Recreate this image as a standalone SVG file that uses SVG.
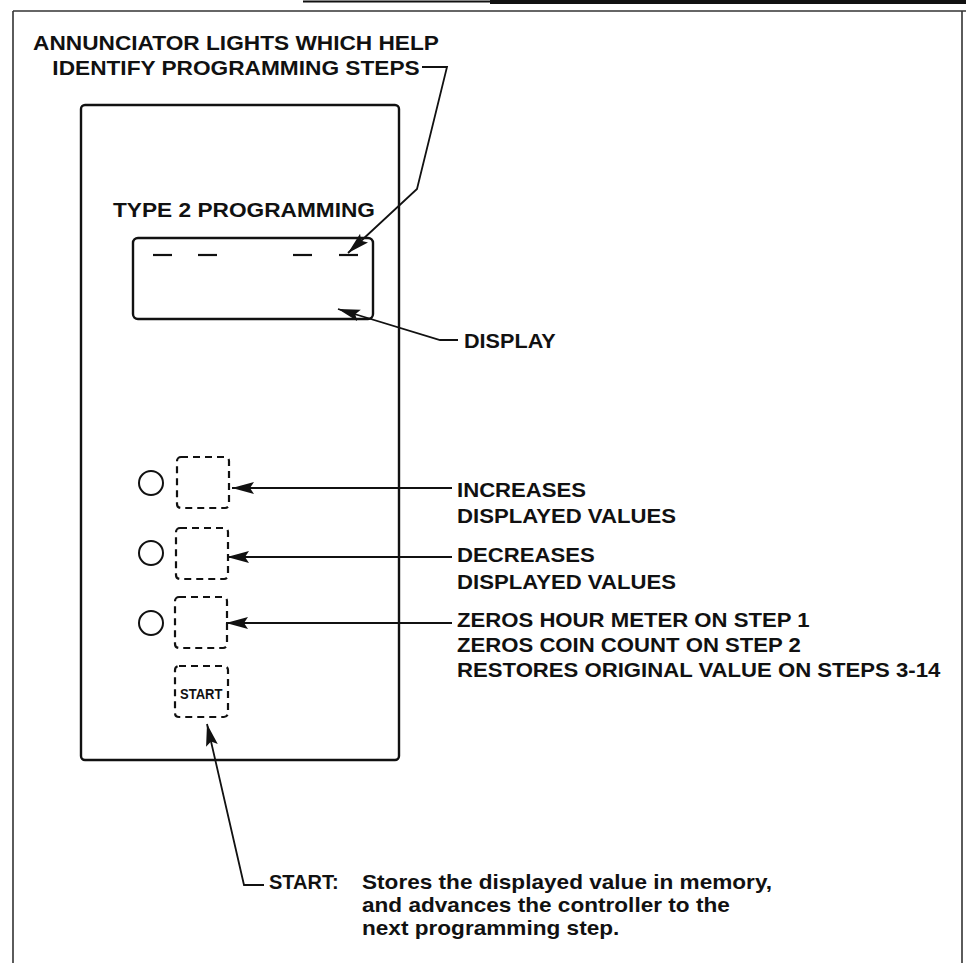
<svg xmlns="http://www.w3.org/2000/svg" width="966" height="963" viewBox="0 0 966 963">
  <style>
    .t { font-family: "Liberation Sans", Arial, Helvetica, sans-serif; font-weight: bold; fill: #111; }
    .cap { font-size: 21px; }
    .lab { font-size: 20.5px; }
    .desc { font-size: 20px; }
    .frame { fill: none; stroke: #333; stroke-width: 1.6; }
    .box { fill: none; stroke: #111; stroke-width: 2.4; }
    .dash { fill: none; stroke: #111; stroke-width: 2.2; stroke-dasharray: 7 5; }
    .led { fill: none; stroke: #111; stroke-width: 2; }
    .seg { stroke: #111; stroke-width: 2.2; }
    .conn { fill: none; stroke: #111; stroke-width: 1.8; marker-end: url(#ah); }
  </style>
  <defs>
    <marker id="ah" markerUnits="userSpaceOnUse" markerWidth="24" markerHeight="13" refX="22" refY="6.5" orient="auto">
      <path d="M0,0.5 L22,6.5 L0,12.5 L4,6.5 z" fill="#111"/>
    </marker>
  </defs>
  <rect width="966" height="963" fill="#fff"/>

  <g id="frame">
    <line x1="13" y1="11" x2="966" y2="11" class="frame"/>
    <line x1="13" y1="11" x2="13" y2="963" class="frame"/>
    <line x1="962" y1="11" x2="962" y2="963" class="frame"/>
    <rect x="490" y="0" width="476" height="4" fill="#111"/>
    <line x1="303" y1="1.5" x2="490" y2="1.5" stroke="#111" stroke-width="2"/>
  </g>

  <g id="panel">
    <rect x="81" y="105" width="318" height="655" rx="4" class="box"/>
  </g>

  <g id="display">
    <text class="t cap" transform="translate(113,217) scale(1.08,1)">TYPE 2 PROGRAMMING</text>
    <rect x="133" y="238" width="240" height="81" rx="5" class="box"/>
    <line x1="153" y1="255" x2="172" y2="255" class="seg"/>
    <line x1="198" y1="255" x2="217" y2="255" class="seg"/>
    <line x1="293" y1="255" x2="312" y2="255" class="seg"/>
    <line x1="339" y1="255" x2="358" y2="255" class="seg"/>
  </g>

  <g id="annunciator-label">
    <text class="t cap" text-anchor="middle" transform="translate(236,50) scale(1.08,1)">ANNUNCIATOR LIGHTS WHICH HELP</text>
    <text class="t cap" text-anchor="middle" transform="translate(236,75) scale(1.08,1)">IDENTIFY PROGRAMMING STEPS</text>
  </g>

  <g id="display-label">
    <text class="t cap" transform="translate(464,348) scale(1.03,1)">DISPLAY</text>
  </g>

  <g id="button-up">
    <circle cx="151" cy="483" r="12" class="led"/>
    <rect x="177" y="457" width="52" height="51" rx="4" class="dash"/>
  </g>
  <g id="button-down">
    <circle cx="151" cy="553" r="12" class="led"/>
    <rect x="176" y="528" width="52" height="51" rx="4" class="dash"/>
  </g>
  <g id="button-reset">
    <circle cx="151" cy="623" r="12" class="led"/>
    <rect x="175" y="597" width="52" height="51" rx="4" class="dash"/>
  </g>
  <g id="button-start">
    <rect x="175" y="666" width="53" height="51" rx="4" class="dash"/>
    <text class="t" font-size="14" transform="translate(180,699) scale(0.93,1)">START</text>
  </g>

  <g id="label-increases">
    <text class="t lab" transform="translate(457,497) scale(1.08,1)">INCREASES</text>
    <text class="t lab" transform="translate(457,523) scale(1.08,1)">DISPLAYED VALUES</text>
  </g>
  <g id="label-decreases">
    <text class="t lab" transform="translate(457,562) scale(1.08,1)">DECREASES</text>
    <text class="t lab" transform="translate(457,589) scale(1.08,1)">DISPLAYED VALUES</text>
  </g>
  <g id="label-zeros">
    <text class="t lab" transform="translate(457,627) scale(1.08,1)">ZEROS HOUR METER ON STEP 1</text>
    <text class="t lab" transform="translate(457,652) scale(1.08,1)">ZEROS COIN COUNT ON STEP 2</text>
    <text class="t lab" transform="translate(457,677) scale(1.08,1)">RESTORES ORIGINAL VALUE ON STEPS 3-14</text>
  </g>
  <g id="label-start">
    <text class="t desc" x="269" y="889">START:</text>
    <text class="t desc" transform="translate(362,889) scale(1.13,1)">Stores the displayed value in memory,</text>
    <text class="t desc" transform="translate(362,912) scale(1.13,1)">and advances the controller to the</text>
    <text class="t desc" transform="translate(362,935) scale(1.13,1)">next programming step.</text>
  </g>

  <g id="connectors">
    <path d="M422,67 H447 L417,189 L348,253" class="conn"/>
    <path d="M458,340 H440 L338,309" class="conn"/>
    <path d="M452,488 H232" class="conn"/>
    <path d="M452,557 H227" class="conn"/>
    <path d="M452,623 H226" class="conn"/>
    <path d="M264,885 H244 L207,724" class="conn"/>
  </g>
</svg>
